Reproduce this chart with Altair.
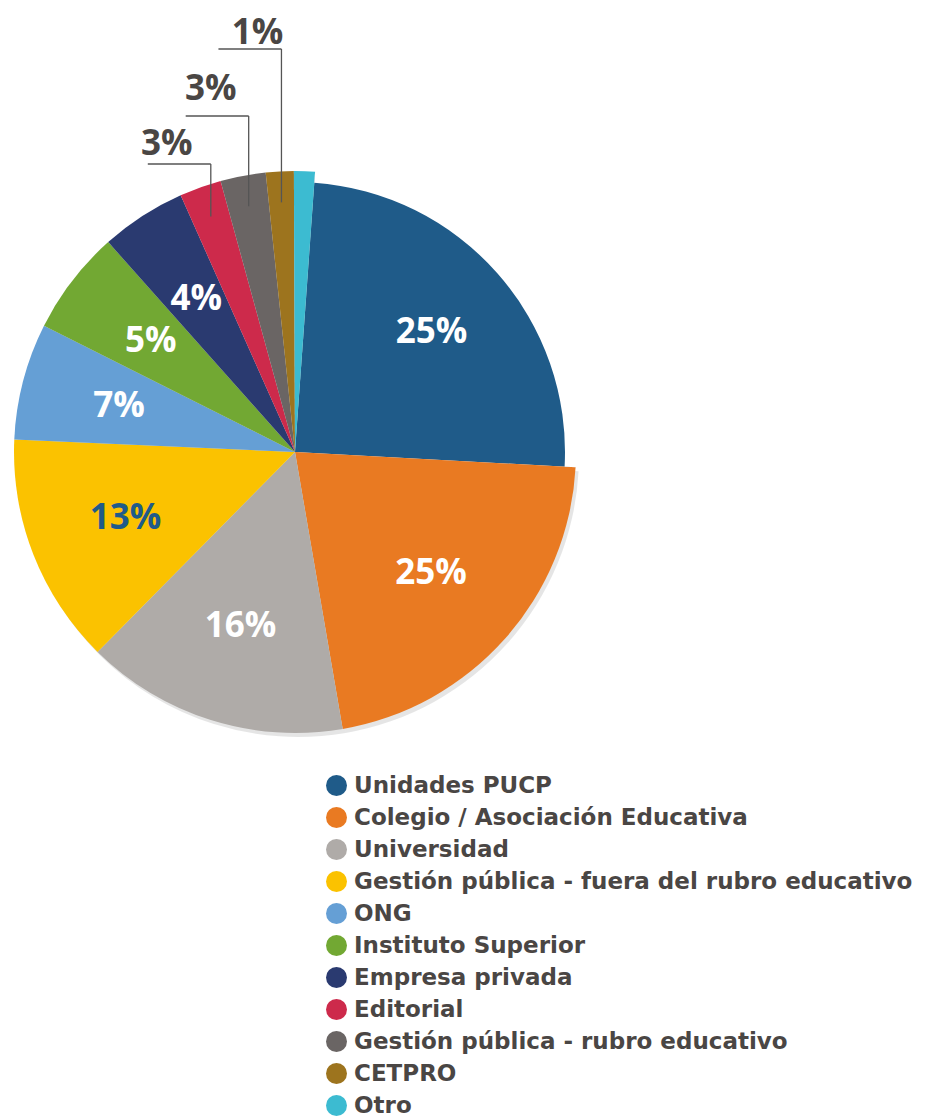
import math
import altair as alt
import pandas as pd

# ---- data -------------------------------------------------------------
categories = [
    "Unidades PUCP",
    "Colegio / Asociación Educativa",
    "Universidad",
    "Gestión pública - fuera del rubro educativo",
    "ONG",
    "Instituto Superior",
    "Empresa privada",
    "Editorial",
    "Gestión pública - rubro educativo",
    "CETPRO",
    "Otro",
]
# slice shares as drawn
shares = [24.7, 21.4, 15.1, 13.3, 6.7, 6.0, 4.9, 2.4, 2.6, 1.6, 1.2]
# printed percentage labels
inside_labels = ["25%", "25%", "16%", "13%", "7%", "5%", "4%", "", "", "", ""]
outside_labels = ["", "", "", "", "", "", "", "3%", "3%", "1%", ""]

colors = ["#1f5b89", "#e97a22", "#afaba8", "#fbc200", "#659fd5", "#72a833",
          "#2a3a70", "#cd2a4b", "#6a6564", "#9d741e", "#3cbbd1"]
label_colors = ["white", "white", "white", "#1f5b89", "white", "white", "white",
                "white", "white", "white", "white"]

# ---- layout constants ---------------------------------------------------
W, H = 905, 1108
CX, CY = 287, 444          # pie centre in chart pixels
R_MAIN, R_FIRST = 281, 270  # radius of slices (first slice is a bit smaller)
START = math.radians(4.1)   # angle where the first slice starts
LABEL_R = 182
ANCHOR_R = 250
NUM_FONT = "Open Sans"
LEG_FONT = "DejaVu Sans"
DARK = "#4a4644"

df = pd.DataFrame({
    "cat": categories,
    "share": shares,
    "inside": inside_labels,
    "tcolor": label_colors,
})
df["idx"] = range(len(df))
# the first slice is drawn with a smaller radius: mask the outer ring
df["ring"] = ["white"] + ["transparent"] * (len(df) - 1)
df["shadow_op"] = [0.0] + [0.10] * (len(df) - 1)

# callout geometry derived from slice mid-angles
total = sum(shares)
cum = 0.0
mids = []
for v in shares:
    mids.append(START + (cum + v / 2) / total * 2 * math.pi)
    cum += v
callout_rows = []
line_levels = [156, 108, 41]     # y of horizontal leader segment
text_levels = [147, 92, 36]      # baseline of callout text
text_shift = [44, 38, 24]        # text centre left of the vertical segment
seg_len = 63
k = 0
for i, lab in enumerate(outside_labels):
    if not lab:
        continue
    ax = CX + ANCHOR_R * math.sin(mids[i])
    ay = CY - ANCHOR_R * math.cos(mids[i])
    callout_rows.append({
        "label": lab, "ax": ax, "ay": ay, "ly": line_levels[k],
        "lx": ax - seg_len, "tx": ax - text_shift[k], "ty": text_levels[k],
    })
    k += 1
cdf = pd.DataFrame(callout_rows)

theta = alt.Theta("share:Q", stack=True,
                  scale=alt.Scale(range=[START, START + 2 * math.pi]))
order = alt.Order("idx:Q", sort="ascending")

base = alt.Chart(df)

shadow = base.mark_arc(x=CX + 3, y=CY + 4, radius=R_MAIN, color="#000000").encode(
    theta=theta, order=order, opacity=alt.Opacity("shadow_op:Q", scale=None),
)

pie = base.mark_arc(x=CX, y=CY, radius=R_MAIN).encode(
    theta=theta,
    order=order,
    color=alt.Color(
        "cat:N",
        scale=alt.Scale(domain=categories, range=colors),
        legend=alt.Legend(
            title=None, orient="none", legendX=317, legendY=766,
            symbolType="circle", symbolSize=440, symbolStrokeWidth=0,
            labelFont=LEG_FONT, labelFontSize=23, labelFontWeight="bold",
            labelColor=DARK, labelOffset=6, rowPadding=8, padding=0,
            labelLimit=700,
        ),
    ),
)

ring = base.mark_arc(x=CX, y=CY, radius=R_MAIN + 2, radius2=R_FIRST).encode(
    theta=theta, order=order, color=alt.Color("ring:N", scale=None),
)

inside = base.mark_text(
    x=CX, y=CY, radius=LABEL_R, font=NUM_FONT, fontSize=35, fontWeight="bold",
    align="center", baseline="middle",
).encode(
    theta=theta, order=order, text="inside:N",
    color=alt.Color("tcolor:N", scale=None),
)

cbase = alt.Chart(cdf)
vlines = cbase.mark_rule(color="#555555", strokeWidth=1.3).encode(
    x=alt.X("ax:Q", scale=None), y=alt.Y("ay:Q", scale=None),
    y2="ly:Q",
)
hlines = cbase.mark_rule(color="#555555", strokeWidth=1.3).encode(
    x=alt.X("lx:Q", scale=None), x2="ax:Q", y=alt.Y("ly:Q", scale=None),
)
ctext = cbase.mark_text(
    font=NUM_FONT, fontSize=35, fontWeight="bold", color=DARK,
    align="center", baseline="alphabetic",
).encode(
    x=alt.X("tx:Q", scale=None), y=alt.Y("ty:Q", scale=None), text="label:N",
)

chart = alt.layer(shadow, pie, ring, inside, vlines, hlines, ctext).properties(
    width=W, height=H, padding=0,
    autosize=alt.AutoSizeParams(type="none"),
).configure_view(stroke=None)

chart.save("out.html", embed_options={"renderer": "svg", "actions": False})
